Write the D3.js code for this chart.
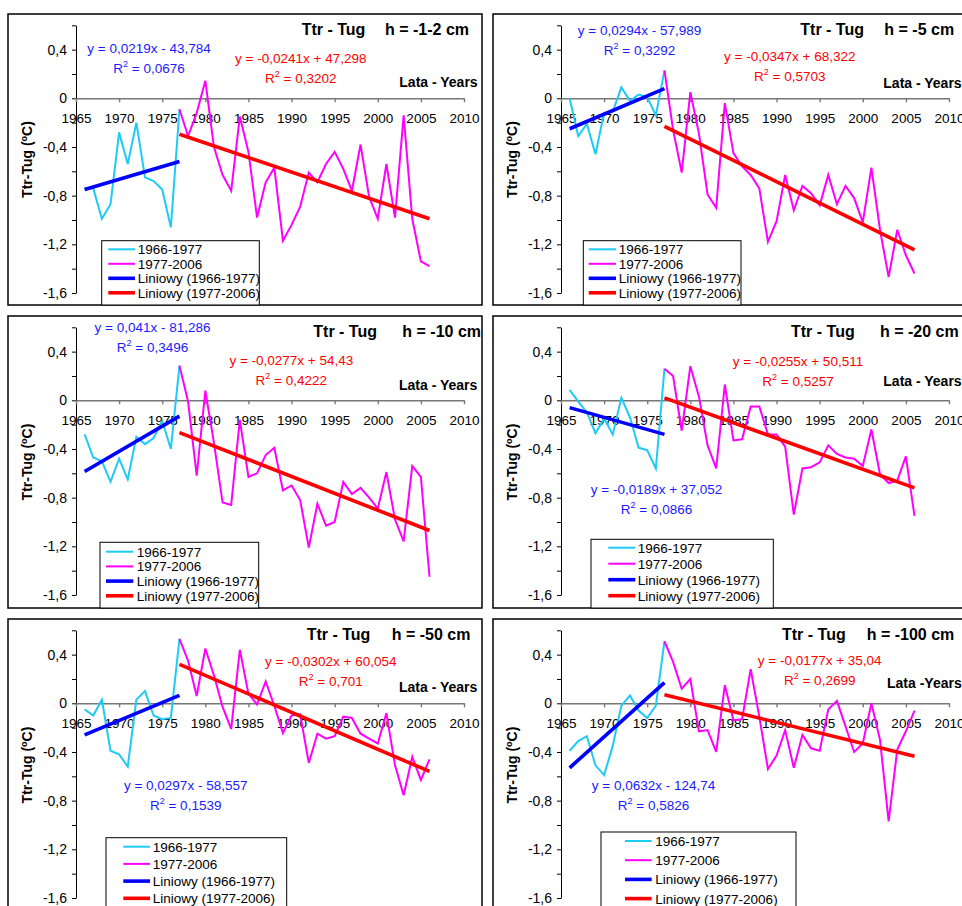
<!DOCTYPE html>
<html>
<head>
<meta charset="utf-8">
<script src="https://cdn.jsdelivr.net/npm/d3@7"></script>
<style>
body { margin: 0; background: #fff; }
svg { display: block; }
text { font-family: "Liberation Sans", Arial, sans-serif; }
</style>
</head>
<body>
<svg id="chart" width="962" height="906"></svg>
<script>

// years on the x axis
const yearsEarly = [1966, 1967, 1968, 1969, 1970, 1971, 1972, 1973, 1974, 1975, 1976, 1977];
const yearsLate = [1977, 1978, 1979, 1980, 1981, 1982, 1983, 1984, 1985, 1986, 1987, 1988, 1989, 1990, 1991,
	1992, 1993, 1994, 1995, 1996, 1997, 1998, 1999, 2000, 2001, 2002, 2003, 2004, 2005, 2006];

const depths = ["h = -1-2 cm", "h = -5 cm", "h = -10 cm", "h = -20 cm", "h = -50 cm", "h = -100 cm"];
const xTitles = ["Lata - Years", "Lata - Years", "Lata - Years", "Lata - Years", "Lata - Years", "Lata -Years"];
const legendLabels = ["1966-1977", "1977-2006", "Liniowy (1966-1977)", "Liniowy (1977-2006)"];

// Ttr - Tug, 1966-1977
const earlyH2 = [-0.74, -0.74, -0.99, -0.87, -0.28, -0.54, -0.20, -0.65, -0.68, -0.75, -1.06, -0.09];
const earlyH5 = [0.00, -0.31, -0.21, -0.46, -0.12, -0.11, 0.09, -0.02, 0.03, 0.01, -0.14, 0.23];
const earlyH10 = [-0.28, -0.47, -0.50, -0.67, -0.48, -0.65, -0.30, -0.36, -0.31, -0.17, -0.40, 0.285];
const earlyH20 = [0.085, -0.01, -0.10, -0.27, -0.15, -0.28, 0.02, -0.14, -0.39, -0.41, -0.56, 0.26];
const earlyH50 = [-0.05, -0.10, 0.03, -0.39, -0.42, -0.52, 0.03, 0.10, -0.10, -0.13, -0.12, 0.53];
const earlyH100 = [-0.39, -0.31, -0.27, -0.51, -0.59, -0.35, -0.02, 0.065, -0.06, -0.12, -0.02, 0.51];

// Ttr - Tug, 1977-2006
const lateH2 = [-0.09, -0.31, -0.12, 0.145, -0.40, -0.63, -0.76, -0.15, -0.44, -0.98, -0.69, -0.57, -1.17, -1.04, -0.89,
	-0.61, -0.69, -0.54, -0.44, -0.58, -0.76, -0.38, -0.81, -0.99, -0.54, -0.98, -0.14, -0.99, -1.34, -1.38];
const lateH5 = [0.23, -0.26, -0.61, 0.05, -0.29, -0.79, -0.90, -0.04, -0.45, -0.56, -0.63, -0.74, -1.18, -1.01, -0.63,
	-0.92, -0.72, -0.78, -0.88, -0.63, -0.87, -0.72, -0.82, -1.02, -0.57, -1.08, -1.47, -1.08, -1.29, -1.44];
const lateH10 = [0.285, -0.01, -0.62, 0.08, -0.35, -0.84, -0.86, -0.16, -0.63, -0.60, -0.45, -0.39, -0.74, -0.70, -0.82,
	-1.21, -0.85, -1.03, -1.00, -0.67, -0.77, -0.72, -0.80, -0.89, -0.59, -0.98, -1.16, -0.54, -0.63, -1.45];
const lateH20 = [0.26, 0.20, -0.25, 0.28, 0.03, -0.37, -0.56, 0.13, -0.33, -0.32, -0.05, -0.05, -0.28, -0.28, -0.38,
	-0.94, -0.56, -0.55, -0.51, -0.37, -0.44, -0.47, -0.48, -0.54, -0.24, -0.61, -0.68, -0.66, -0.46, -0.95];
const lateH50 = [0.53, 0.35, 0.06, 0.45, 0.23, -0.03, -0.21, 0.44, 0.08, -0.01, 0.18, -0.02, -0.245, -0.10, -0.09,
	-0.49, -0.25, -0.29, -0.27, -0.11, -0.12, -0.25, -0.29, -0.33, -0.08, -0.51, -0.755, -0.44, -0.63, -0.46];
const lateH100 = [0.51, 0.34, 0.12, 0.20, -0.23, -0.22, -0.40, 0.15, -0.14, -0.13, 0.28, -0.11, -0.54, -0.43, -0.22,
	-0.53, -0.26, -0.37, -0.39, -0.05, 0.02, -0.19, -0.40, -0.33, 0.00, -0.30, -0.97, -0.38, -0.23, -0.06];

// linear trend ends [first year, last year] as drawn
const trendEarly = [[-0.75, -0.52], [-0.25, 0.08], [-0.585, -0.13], [-0.06, -0.28], [-0.26, 0.065], [-0.53, 0.17]];
const trendLate = [[-0.295, -0.99], [-0.23, -1.245], [-0.265, -1.07], [0.02, -0.72], [0.32, -0.56], [0.07, -0.435]];

const eqEarly = ["y = 0,0219x - 43,784", "y = 0,0294x - 57,989", "y = 0,041x - 81,286",
	"y = -0,0189x + 37,052", "y = 0,0297x - 58,557", "y = 0,0632x - 124,74"];
const r2Early = ["0,0676", "0,3292", "0,3496", "0,0866", "0,1539", "0,5826"];
const eqLate = ["y = -0,0241x + 47,298", "y = -0,0347x + 68,322", "y = -0,0277x + 54,43",
	"y = -0,0255x + 50,511", "y = -0,0302x + 60,054", "y = -0,0177x + 35,04"];
const r2Late = ["0,3202", "0,5703", "0,4222", "0,5257", "0,701", "0,2699"];

const earlySeries = [earlyH2, earlyH5, earlyH10, earlyH20, earlyH50, earlyH100];
const lateSeries = [lateH2, lateH5, lateH10, lateH20, lateH50, lateH100];

const yTicks = [-1.6, -1.4, -1.2, -1.0, -0.8, -0.6, -0.4, -0.2, 0, 0.2, 0.4, 0.6];
const xTicks = [1965, 1970, 1975, 1980, 1985, 1990, 1995, 2000, 2005, 2010];

// where things sit in each panel (pixels)
const layout = [
	{fx: 8, fy: 14, fw: 474, fh: 291, title: [301.7, 385], lata: [399.3, 87.3], eqE: [149, 47.7], eqL: [300.8, 58.3],
		leg: {x: 101.7, y: 240.7, w: 157.6, r0: 249.3, step: 14.5, l0: 108.3, l1: 135, tx: 137.7}},
	{fx: 493, fy: 14, fw: 480, fh: 291, title: [800.3, 884.3], lata: [883.3, 88.3], eqE: [639.5, 30], eqL: [789.8, 56],
		leg: {x: 583.3, y: 240.7, w: 157.7, r0: 249.3, step: 14.5, l0: 588.7, l1: 616, tx: 618.7}},
	{fx: 8, fy: 316, fw: 474, fh: 292, title: [313.3, 402.3], lata: [399, 390], eqE: [152.5, 327], eqL: [291.3, 360],
		leg: {x: 100, y: 542.3, w: 158.7, r0: 551.7, step: 14.7, l0: 106, l1: 133.3, tx: 136.7}},
	{fx: 493, fy: 316, fw: 480, fh: 292, title: [791, 880], lata: [883.3, 386.3], eqE: [656.5, 489], eqL: [798, 361],
		leg: {x: 591, y: 539.3, w: 182.3, r0: 547.7, step: 16, l0: 608.3, l1: 635.3, tx: 637.7}},
	{fx: 8, fy: 619, fw: 474, fh: 300, title: [306.7, 391.7], lata: [399, 692], eqE: [185.7, 785.3], eqL: [330.8, 661],
		leg: {x: 106, y: 837.7, w: 180.7, r0: 846.7, step: 17.2, l0: 123.3, l1: 150, tx: 152.7}},
	{fx: 493, fy: 619, fw: 480, fh: 300, title: [782, 866.7], lata: [887, 688.3], eqE: [653.5, 785.3], eqL: [819.7, 660],
		leg: {x: 601, y: 832, w: 195, r0: 841, step: 19.2, l0: 625, l1: 651.7, tx: 655.3}}
];

const cyan = "#1ecbf7", magenta = "#ff00ff", blue = "#0000ff", red = "#ff0000";
const fmtY = d => Math.abs(d) < 1e-9 ? "0" : d.toFixed(1).replace(".", ",");

const svgObj = d3.select("#chart");

function buildPanel(i) {
	const L = layout[i];
	const g = svgObj.append("g").attr("class", "panel");

	const x = d3.scaleLinear().domain([1965, 2010]).range([L.fx + 68, L.fx + 456]);
	const y = d3.scaleLinear().domain([-1.6, 0.6]).range([L.fy + 279, L.fy + 11.3]);

	// frame
	g.append("rect")
		.attr("x", L.fx).attr("y", L.fy)
		.attr("width", L.fw).attr("height", L.fh)
		.attr("fill", "#fff").attr("stroke", "#000").attr("stroke-width", 1.5);

	// y axis
	const yAxisG = g.append("g")
		.attr("transform", `translate(${x(1965)},0)`)
		.call(d3.axisLeft(y).tickValues(yTicks).tickSize(4).tickSizeOuter(0).tickPadding(5)
			.tickFormat(d => Math.round(d * 10) % 4 === 0 ? fmtY(d) : ""));
	yAxisG.select(".domain").attr("stroke", "#000").attr("stroke-width", 1);
	yAxisG.selectAll(".tick line").attr("stroke", "#000");
	yAxisG.selectAll("text").attr("font-size", "14px").attr("fill", "#000")
		.attr("font-family", "'Liberation Sans', Arial, sans-serif");

	// x axis on the zero line
	const xAxisG = g.append("g")
		.attr("transform", `translate(0,${y(0)})`)
		.call(d3.axisBottom(x).tickValues(xTicks).tickSize(4).tickSizeOuter(0).tickPadding(11)
			.tickFormat(d3.format("d")));
	xAxisG.select(".domain").attr("stroke", "#777").attr("stroke-width", 1.6);
	xAxisG.selectAll(".tick line").attr("stroke", "#777").attr("stroke-width", 1.4);
	xAxisG.selectAll("text").attr("font-size", "13.5px").attr("fill", "#000")
		.attr("font-family", "'Liberation Sans', Arial, sans-serif");

	// y axis title
	const yt = g.append("text")
		.attr("transform", `translate(${L.fx + 23.5},${L.fy + L.fh / 2 - (L.fh > 295 ? 4 : 0)}) rotate(-90)`)
		.attr("text-anchor", "middle")
		.attr("font-size", "14px").attr("font-weight", "bold");
	yt.append("tspan").text("Ttr-Tug (");
	yt.append("tspan").attr("dy", -5).attr("font-size", "9px").text("o");
	yt.append("tspan").attr("dy", 5).text("C)");

	const line = d3.line().x(d => x(d[0])).y(d => y(d[1]));

	// data lines
	g.append("path")
		.datum(yearsEarly.map((yr, k) => [yr, earlySeries[i][k]]))
		.attr("d", line).attr("fill", "none").attr("stroke", cyan).attr("stroke-width", 2);
	g.append("path")
		.datum(yearsLate.map((yr, k) => [yr, lateSeries[i][k]]))
		.attr("d", line).attr("fill", "none").attr("stroke", magenta).attr("stroke-width", 2);

	// trends
	g.append("path")
		.datum([[1966, trendEarly[i][0]], [1977, trendEarly[i][1]]])
		.attr("d", line).attr("stroke", blue).attr("stroke-width", 3.6);
	g.append("path")
		.datum([[1977, trendLate[i][0]], [2006, trendLate[i][1]]])
		.attr("d", line).attr("stroke", red).attr("stroke-width", 3.6);

	// titles
	g.append("text").attr("x", L.title[0]).attr("y", L.fy + 21)
		.attr("font-size", "16px").attr("font-weight", "bold").text("Ttr - Tug");
	g.append("text").attr("x", L.title[1]).attr("y", L.fy + 21)
		.attr("font-size", "16px").attr("font-weight", "bold").text(depths[i]);
	g.append("text").attr("x", L.lata[0]).attr("y", L.lata[1])
		.attr("font-size", "14px").attr("font-weight", "bold").text(xTitles[i]);

	// equations
	addEquation(g, L.eqE, eqEarly[i], r2Early[i], "#1a1aff");
	addEquation(g, L.eqL, eqLate[i], r2Late[i], red);

	// legend
	const lg = L.leg;
	const legendG = g.append("g");
	legendG.append("rect")
		.attr("x", lg.x).attr("y", lg.y)
		.attr("width", lg.w).attr("height", L.fy + L.fh - lg.y)
		.attr("fill", "#fff").attr("stroke", "#000").attr("stroke-width", 1);
	const legColors = [cyan, magenta, blue, red];
	const legWidths = [2, 2, 3.6, 3.6];
	legendLabels.forEach((lab, k) => {
		const cy = lg.r0 + k * lg.step;
		legendG.append("line")
			.attr("x1", lg.l0).attr("x2", lg.l1).attr("y1", cy).attr("y2", cy)
			.attr("stroke", legColors[k]).attr("stroke-width", legWidths[k]);
		legendG.append("text").attr("x", lg.tx).attr("y", cy + 5)
			.attr("font-size", "13.5px").text(lab);
	});
}

function addEquation(g, pos, eq, r2, color) {
	g.append("text").attr("x", pos[0]).attr("y", pos[1] + 5)
		.attr("text-anchor", "middle").attr("font-size", "13.5px").attr("fill", color).text(eq);
	const t = g.append("text").attr("x", pos[0]).attr("y", pos[1] + 25)
		.attr("text-anchor", "middle").attr("font-size", "13.5px").attr("fill", color);
	t.append("tspan").text("R");
	t.append("tspan").attr("dy", -6).attr("font-size", "9px").text("2");
	t.append("tspan").attr("dy", 6).text(" = " + r2);
}

// right column first so the left frames sit on top of the overlap
[1, 3, 5, 0, 2, 4].forEach(buildPanel);

</script>
</body>
</html>
